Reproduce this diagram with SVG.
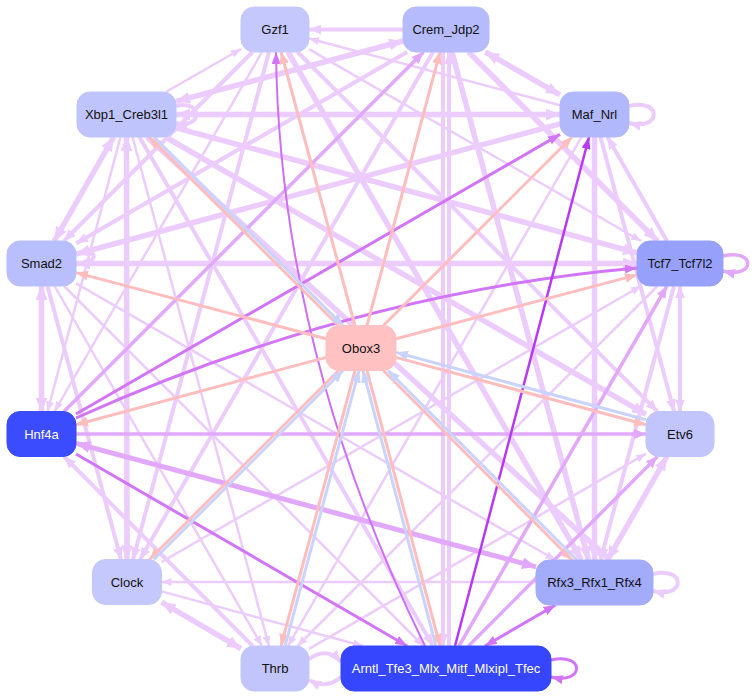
<svg xmlns="http://www.w3.org/2000/svg" width="755" height="698" viewBox="0 0 755 698">
<style>
.e{fill:none;stroke-linecap:butt}
.l1{stroke:#ecccfd;stroke-width:2.5}
.l2{stroke:#ecccfd;stroke-width:4}
.l3{stroke:#ecccfd;stroke-width:5.5}
.m{stroke:#e2a8fb;stroke-width:3.5}
.m5{stroke:#e2a8fb;stroke-width:5}
.p{stroke:#d275f9;stroke-width:3}
.p2{stroke:#cf6ef9;stroke-width:2}
.b{stroke:#b638f8;stroke-width:2.5}
.pk{stroke:#ffbdbd;stroke-width:3}
.bl{stroke:#cad3fb;stroke-width:3}
.nd{stroke-width:1}
.t{font-family:"Liberation Sans",Arial,sans-serif;font-size:13px;text-anchor:middle;fill:#111}
.tw{fill:#ffffff}
</style>
<defs>
<marker id="aL1" viewBox="0 0 10 8" refX="10" refY="4" markerWidth="10" markerHeight="8" markerUnits="userSpaceOnUse" orient="auto-start-reverse"><path d="M0,0L10,4L0,8z" fill="#ecccfd"/></marker>
<marker id="aL2" viewBox="0 0 12 10" refX="12" refY="5" markerWidth="12" markerHeight="10" markerUnits="userSpaceOnUse" orient="auto-start-reverse"><path d="M0,0L12,5L0,10z" fill="#ecccfd"/></marker>
<marker id="aL3" viewBox="0 0 14 12" refX="14" refY="6" markerWidth="14" markerHeight="12" markerUnits="userSpaceOnUse" orient="auto-start-reverse"><path d="M0,0L14,6L0,12z" fill="#ecccfd"/></marker>
<marker id="aM" viewBox="0 0 12 10" refX="12" refY="5" markerWidth="12" markerHeight="10" markerUnits="userSpaceOnUse" orient="auto-start-reverse"><path d="M0,0L12,5L0,10z" fill="#e2a8fb"/></marker>
<marker id="aM3" viewBox="0 0 14 12" refX="14" refY="6" markerWidth="14" markerHeight="12" markerUnits="userSpaceOnUse" orient="auto-start-reverse"><path d="M0,0L14,6L0,12z" fill="#e2a8fb"/></marker>
<marker id="aP" viewBox="0 0 12 9" refX="12" refY="4.5" markerWidth="12" markerHeight="9" markerUnits="userSpaceOnUse" orient="auto-start-reverse"><path d="M0,0L12,4.5L0,9z" fill="#d275f9"/></marker>
<marker id="aB" viewBox="0 0 12 9" refX="12" refY="4.5" markerWidth="12" markerHeight="9" markerUnits="userSpaceOnUse" orient="auto-start-reverse"><path d="M0,0L12,4.5L0,9z" fill="#b638f8"/></marker>
<marker id="aPk" viewBox="0 0 12 10" refX="12" refY="5" markerWidth="12" markerHeight="10" markerUnits="userSpaceOnUse" orient="auto-start-reverse"><path d="M0,0L12,5L0,10z" fill="#ffbdbd"/></marker>
<marker id="aBl" viewBox="0 0 12 10" refX="12" refY="5" markerWidth="12" markerHeight="10" markerUnits="userSpaceOnUse" orient="auto-start-reverse"><path d="M0,0L12,5L0,10z" fill="#cad3fb"/></marker>
</defs>
<rect width="755" height="698" fill="#ffffff"/>
<g id="edges" class="e">
<!-- lavender -->
<path class="e l2" d="M403,29.5L309,29.5" marker-end="url(#aL2)"/>
<path class="e l1" d="M560,105.3L309,38.5" marker-end="url(#aL1)"/>
<path class="e l1" d="M165.8,92L241,49" marker-end="url(#aL1)"/>
<path class="e l3" d="M176,101.3L403,41" marker-start="url(#aL3)" marker-end="url(#aL3)"/>
<path class="e l3" d="M485.3,52L560,94.8" marker-start="url(#aL3)" marker-end="url(#aL3)"/>
<path class="e l3" d="M176,114.5L560,114.5" marker-start="url(#aL3)" marker-end="url(#aL3)"/>
<path class="e l2" d="M629,106C662,98 662,131 629,123" marker-end="url(#aL2)"/>
<path class="e l2" d="M653,574C686,566 686,599 653,591" marker-end="url(#aL2)"/>
<path class="e l2" d="M176,106C203,99 203,130 176,123" marker-end="url(#aL2)"/>
<path class="e l2" d="M76,254C96,246 102,262 78,264" marker-end="url(#aL2)"/>
<path class="e l2" d="M309,659C322,650 332,652 341,662" marker-end="url(#aL2)"/>
<path class="e l2" d="M341,677C331,686 320,686 309,680" marker-end="url(#aL2)"/>
<path class="e l3" d="M41.5,286L41.5,411.5" marker-start="url(#aL3)" marker-end="url(#aL3)"/>
<path class="e l3" d="M126.5,137L127,559.5" marker-start="url(#aL3)" marker-end="url(#aL3)"/>
<path class="e l2" d="M443,52L443,646" marker-end="url(#aL2)"/>
<path class="e l2" d="M449,646L449,52" marker-end="url(#aL2)"/>
<path class="e l3" d="M594.5,137L594.5,560" marker-end="url(#aL3)"/>
<path class="e l2" d="M680,286L680,411.5" marker-start="url(#aL2)" marker-end="url(#aL2)"/>
<path class="e l3" d="M76,263.5L637,263.5" marker-start="url(#aL3)" marker-end="url(#aL3)"/>
<path class="e l1" d="M536,582L161.5,582" marker-end="url(#aL1)"/>
<path class="e l3" d="M113.7,137L54.3,241" marker-start="url(#aL3)" marker-end="url(#aL3)"/>
<path class="e l2" d="M252.5,52L63.9,241" marker-end="url(#aL2)"/>
<path class="e l2" d="M407.2,52L76,243.5" marker-end="url(#aL2)"/>
<path class="e l3" d="M560,123.8L76,254.2" marker-end="url(#aL3)"/>
<path class="e l1" d="M132.5,137L269,646" marker-end="url(#aL1)"/>
<path class="e l2" d="M139.5,137L433,646" marker-end="url(#aL2)"/>
<path class="e l3" d="M147,137L610,560" marker-end="url(#aL3)"/>
<path class="e l3" d="M165.5,137L646,414.4" marker-end="url(#aL3)"/>
<path class="e l3" d="M176,127.8L637,252.9" marker-end="url(#aL3)"/>
<path class="e l1" d="M120.5,137L47.5,411.5" marker-end="url(#aL1)"/>
<path class="e l1" d="M262,52L54.5,411.5" marker-end="url(#aL1)"/>
<path class="e l2" d="M269,52L133,559.5" marker-end="url(#aL2)"/>
<path class="e l3" d="M288,52L581.5,560" marker-end="url(#aL3)"/>
<path class="e l2" d="M297.5,52L657.5,411.5" marker-end="url(#aL2)"/>
<path class="e l1" d="M309,49.2L641,241" marker-end="url(#aL1)"/>
<path class="e l2" d="M433,52L140,559.5" marker-end="url(#aL2)"/>
<path class="e l3" d="M468.5,52L657.5,241" marker-end="url(#aL3)"/>
<path class="e l3" d="M452,52L588.5,560" marker-end="url(#aL3)"/>
<path class="e l2" d="M600.5,137L674,411.5" marker-end="url(#aL2)"/>
<path class="e l1" d="M581.5,137L288,646" marker-end="url(#aL1)"/>
<path class="e l2" d="M667,241L607.4,137" marker-end="url(#aL2)"/>
<path class="e l1" d="M161.5,562L641,286" marker-end="url(#aL1)"/>
<path class="e l2" d="M674,286L600.5,560" marker-end="url(#aL2)"/>
<path class="e l1" d="M657.5,286L297.5,646" marker-end="url(#aL1)"/>
<path class="e l1" d="M309,648.8L646,453.7" marker-end="url(#aL1)"/>
<path class="e l3" d="M667,456.5L607.5,560" marker-start="url(#aL3)" marker-end="url(#aL3)"/>
<path class="e l2" d="M252.6,646L64,456.5" marker-end="url(#aL2)"/>
<path class="e l2" d="M47.5,286L121,559.5" marker-end="url(#aL2)"/>
<path class="e l1" d="M54.5,286L262,646" marker-end="url(#aL1)"/>
<path class="e l1" d="M64,286L423.5,646" marker-end="url(#aL1)"/>
<path class="e l1" d="M76,283.4L555.5,560" marker-end="url(#aL1)"/>
<path class="e l3" d="M161.5,602.2L241,648.6" marker-start="url(#aL3)" marker-end="url(#aL3)"/>
<path class="e l1" d="M161.5,591.4L363,646" marker-end="url(#aL1)"/>
<!-- medium / purple -->
<path class="e m" d="M76,434L646,434" marker-end="url(#aM)"/>
<path class="e m5" d="M76,443.3L536,566.8" marker-start="url(#aM3)" marker-end="url(#aM3)"/>
<path class="e m" d="M64,411.5L423.5,52" marker-end="url(#aM)"/>
<path class="e m" d="M723,256C756,248 756,279 723,271" marker-end="url(#aM)"/>
<path class="e m" d="M459,646L667,286" marker-end="url(#aM)"/>
<path class="e m" d="M468.5,646L657.5,456.5" marker-end="url(#aM)"/>
<path class="e p" d="M76,418Q353,293 637,268" marker-end="url(#aP)"/>
<path class="e p" d="M76,414L560,134.4" marker-end="url(#aP)"/>
<path class="e p" d="M76,454L407.2,646" marker-end="url(#aP)"/>
<path class="e p" d="M484.9,646L555.6,605" marker-start="url(#aP)" marker-end="url(#aP)"/>
<path class="e p" d="M551,660C585,652 585,685 551,677" marker-end="url(#aP)"/>
<path class="e p2" d="M425,646Q279.5,349 276,52" marker-end="url(#aP)"/>
<path class="e b" d="M455,646L589,137" marker-end="url(#aB)"/>
<!-- Obox3 out (pink) -->
<path class="e pk" d="M354.9,325.5L281.1,52" marker-end="url(#aPk)"/>
<path class="e pk" d="M367,325.5L440,52" marker-end="url(#aPk)"/>
<path class="e pk" d="M383.5,325.5L572,137" marker-end="url(#aPk)"/>
<path class="e pk" d="M396,338.7L637,274.9" marker-end="url(#aPk)"/>
<path class="e pk" d="M396,357.4L646,424.8" marker-end="url(#aPk)"/>
<path class="e pk" d="M383.4,370.5L572.1,560" marker-end="url(#aPk)"/>
<path class="e pk" d="M367,370.5L440,646" marker-end="url(#aPk)"/>
<path class="e pk" d="M355,370.5L281,646" marker-end="url(#aPk)"/>
<path class="e pk" d="M338.5,370.5L149.5,559.5" marker-end="url(#aPk)"/>
<path class="e pk" d="M326,357.4L76,424.7" marker-end="url(#aPk)"/>
<path class="e pk" d="M326,338.7L76,272.6" marker-end="url(#aPk)"/>
<path class="e pk" d="M338.4,325.5L149.1,137" marker-end="url(#aPk)"/>
<!-- into Obox3 (blue) -->
<path class="e bl" d="M154,137L343,325.5" marker-end="url(#aBl)"/>
<path class="e bl" d="M154,559.5L343,370.5" marker-end="url(#aBl)"/>
<path class="e bl" d="M285,646L359,370.5" marker-end="url(#aBl)"/>
<path class="e bl" d="M436,646L363,370.5" marker-end="url(#aBl)"/>
<path class="e bl" d="M577,560L388,370.5" marker-end="url(#aBl)"/>
<path class="e bl" d="M646,419.8L396,352.4" marker-end="url(#aBl)"/>
</g>
<g id="nodes">
<g id="n-Gzf1"><rect x="241" y="7" width="68" height="45" rx="13" fill="#c5c8fd" stroke="#c5c8fd"/><text class="t" x="275" y="34">Gzf1</text></g>
<g id="n-Crem_Jdp2"><rect x="403" y="7" width="86" height="45" rx="13" fill="#b5bbfc" stroke="#b5bbfc"/><text class="t" x="446" y="34">Crem_Jdp2</text></g>
<g id="n-Maf_Nrl"><rect x="560" y="92" width="69" height="45" rx="13" fill="#b1b8fc" stroke="#b1b8fc"/><text class="t" x="594.5" y="119">Maf_Nrl</text></g>
<g id="n-Xbp1_Creb3l1"><rect x="77" y="92" width="99" height="45" rx="13" fill="#c0c4fc" stroke="#c0c4fc"/><text class="t" x="126.5" y="119">Xbp1_Creb3l1</text></g>
<g id="n-Smad2"><rect x="7" y="241" width="69" height="45" rx="13" fill="#b9bffc" stroke="#b9bffc"/><text class="t" x="41.5" y="268">Smad2</text></g>
<g id="n-Tcf7_Tcf7l2"><rect x="637" y="241" width="86" height="45" rx="13" fill="#97a1fb" stroke="#97a1fb"/><text class="t" x="680" y="268">Tcf7_Tcf7l2</text></g>
<g id="n-Obox3"><rect x="326" y="325.5" width="70" height="45" rx="13" fill="#ffc1c1" stroke="#ffc1c1"/><text class="t" x="361" y="352.5">Obox3</text></g>
<g id="n-Hnf4a"><rect x="7" y="411.5" width="69" height="45" rx="13" fill="#3b4bfe" stroke="#3b4bfe"/><text class="t tw" x="41.5" y="438.5">Hnf4a</text></g>
<g id="n-Etv6"><rect x="646" y="411.5" width="68" height="45" rx="13" fill="#c1c5fc" stroke="#c1c5fc"/><text class="t" x="680" y="438.5">Etv6</text></g>
<g id="n-Clock"><rect x="92.5" y="559.5" width="69" height="45" rx="13" fill="#c5c8fd" stroke="#c5c8fd"/><text class="t" x="127" y="586.5">Clock</text></g>
<g id="n-Rfx3_Rfx1_Rfx4"><rect x="536" y="560" width="117" height="45" rx="13" fill="#a3acfb" stroke="#a3acfb"/><text class="t" x="594.5" y="587">Rfx3_Rfx1_Rfx4</text></g>
<g id="n-Thrb"><rect x="241" y="646" width="68" height="45" rx="13" fill="#c1c5fc" stroke="#c1c5fc"/><text class="t" x="275" y="673">Thrb</text></g>
<g id="n-Arntl_Tfe3_Mlx_Mitf_Mlxipl_Tfec"><rect x="341" y="646" width="210" height="45" rx="13" fill="#3546fe" stroke="#3546fe"/><text class="t tw" x="446" y="673">Arntl_Tfe3_Mlx_Mitf_Mlxipl_Tfec</text></g>
</g>
</svg>
